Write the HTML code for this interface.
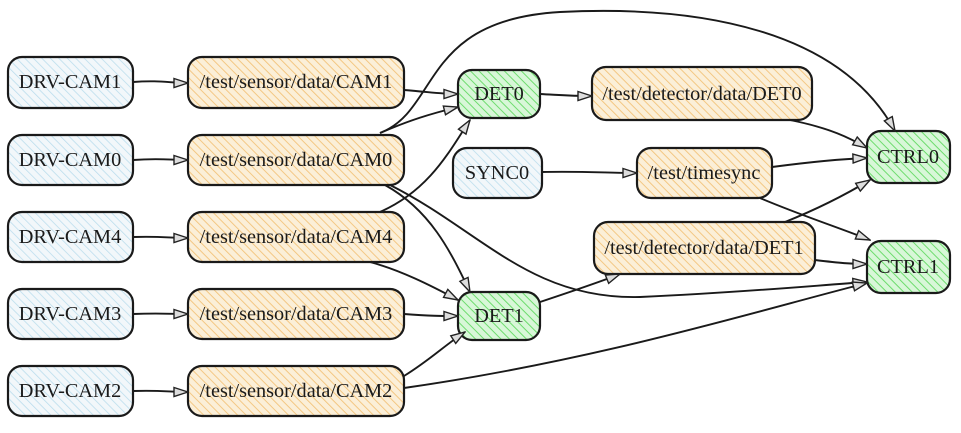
<!DOCTYPE html>
<html><head><style>body{margin:0;background:#fff}svg{display:block}text{font-family:"Liberation Serif",serif;font-size:20.3px;fill:#1a1a1a;text-anchor:middle;dominant-baseline:central}</style></head><body>
<svg width="961" height="433" viewBox="0 0 961 433">
<defs>
<pattern id="hb" width="6" height="6" patternUnits="userSpaceOnUse" patternTransform="rotate(-45)"><rect width="6" height="6" fill="#f2f7fa"/><line x1="0" y1="0" x2="0" y2="6" stroke="#b8dcec" stroke-width="1.5"/></pattern>
<pattern id="ho" width="6" height="6" patternUnits="userSpaceOnUse" patternTransform="rotate(-45)"><rect width="6" height="6" fill="#fbefd8"/><line x1="0" y1="0" x2="0" y2="6" stroke="#f3c37a" stroke-width="1.8"/></pattern>
<pattern id="hg" width="6" height="6" patternUnits="userSpaceOnUse" patternTransform="rotate(-45)"><rect width="6" height="6" fill="#d8f7d8"/><line x1="0" y1="0" x2="0" y2="6" stroke="#6ddc6d" stroke-width="2"/></pattern>
<marker id="a" markerWidth="16" markerHeight="12" refX="15" refY="6" orient="auto" markerUnits="userSpaceOnUse"><path d="M1,1.5 L15,6 L1,10.5 Z" fill="#ddd" stroke="#222" stroke-width="1.4"/></marker>
</defs>
<g stroke="#1a1a1a" stroke-width="2.2">
<rect x="8" y="57" width="125" height="51" rx="14" fill="url(#hb)"/>
<rect x="8" y="135" width="125" height="50" rx="14" fill="url(#hb)"/>
<rect x="8" y="212" width="125" height="50" rx="14" fill="url(#hb)"/>
<rect x="8" y="289" width="125" height="50" rx="14" fill="url(#hb)"/>
<rect x="8" y="366" width="125" height="50" rx="14" fill="url(#hb)"/>
<rect x="188" y="57" width="216" height="51" rx="14" fill="url(#ho)"/>
<rect x="188" y="135" width="216" height="50" rx="14" fill="url(#ho)"/>
<rect x="188" y="212" width="216" height="50" rx="14" fill="url(#ho)"/>
<rect x="188" y="289" width="216" height="50" rx="14" fill="url(#ho)"/>
<rect x="188" y="366" width="216" height="50" rx="14" fill="url(#ho)"/>
<rect x="458" y="70" width="82" height="48" rx="14" fill="url(#hg)"/>
<rect x="458" y="292" width="82" height="48" rx="14" fill="url(#hg)"/>
<rect x="453" y="148" width="89" height="50" rx="14" fill="url(#hb)"/>
<rect x="592" y="67" width="220" height="53" rx="14" fill="url(#ho)"/>
<rect x="637" y="148" width="135" height="50" rx="14" fill="url(#ho)"/>
<rect x="594" y="222" width="221" height="52" rx="14" fill="url(#ho)"/>
<rect x="867" y="131" width="83" height="52" rx="14" fill="url(#hg)"/>
<rect x="867" y="241" width="83" height="52" rx="14" fill="url(#hg)"/>
</g>
<g fill="none" stroke="#1a1a1a" stroke-width="1.9" marker-end="url(#a)">
<path d="M133,82 C160,80 170,83 188,83"/>
<path d="M133,160 C160,158 170,160 188,160"/>
<path d="M133,237 C160,236 170,238 188,238"/>
<path d="M133,314 C160,313 170,314 188,314"/>
<path d="M133,391 C160,390 170,392 188,392"/>
<path d="M404,90 C430,92 440,94 458,94"/>
<path d="M380,133 C410,120 430,114 458,107"/>
<path d="M380,212 C430,190 450,150 470,120"/>
<path d="M380,133 C440,110 420,20 560,12 C700,5 840,30 895,131"/>
<path d="M385,185 C430,210 450,250 470,292"/>
<path d="M390,185 C480,230 530,300 640,297 C750,292 820,285 867,282"/>
<path d="M370,262 C400,270 430,285 458,300"/>
<path d="M404,314 C430,316 440,316 458,316"/>
<path d="M404,376 C430,360 445,345 465,332"/>
<path d="M404,388 C600,360 760,310 867,283"/>
<path d="M540,94 C560,95 570,96 592,96"/>
<path d="M790,120 C830,128 850,138 867,148"/>
<path d="M542,172 C580,171 610,173 637,173"/>
<path d="M772,167 C810,162 840,159 867,158"/>
<path d="M760,198 C800,215 840,228 870,240"/>
<path d="M540,302 C570,292 600,282 620,274"/>
<path d="M785,222 C820,208 845,195 870,180"/>
<path d="M815,260 C840,263 850,264 867,264"/>
</g>
<text x="70" y="82">DRV-CAM1</text>
<text x="70" y="160">DRV-CAM0</text>
<text x="70" y="237">DRV-CAM4</text>
<text x="70" y="314">DRV-CAM3</text>
<text x="70" y="391">DRV-CAM2</text>
<text x="296" y="82">/test/sensor/data/CAM1</text>
<text x="296" y="160">/test/sensor/data/CAM0</text>
<text x="296" y="237">/test/sensor/data/CAM4</text>
<text x="296" y="314">/test/sensor/data/CAM3</text>
<text x="296" y="391">/test/sensor/data/CAM2</text>
<text x="499" y="94">DET0</text>
<text x="499" y="316">DET1</text>
<text x="497" y="173">SYNC0</text>
<text x="702" y="94">/test/detector/data/DET0</text>
<text x="704" y="173">/test/timesync</text>
<text x="704" y="248">/test/detector/data/DET1</text>
<text x="908" y="157">CTRL0</text>
<text x="908" y="267">CTRL1</text>
</svg>
</body></html>
